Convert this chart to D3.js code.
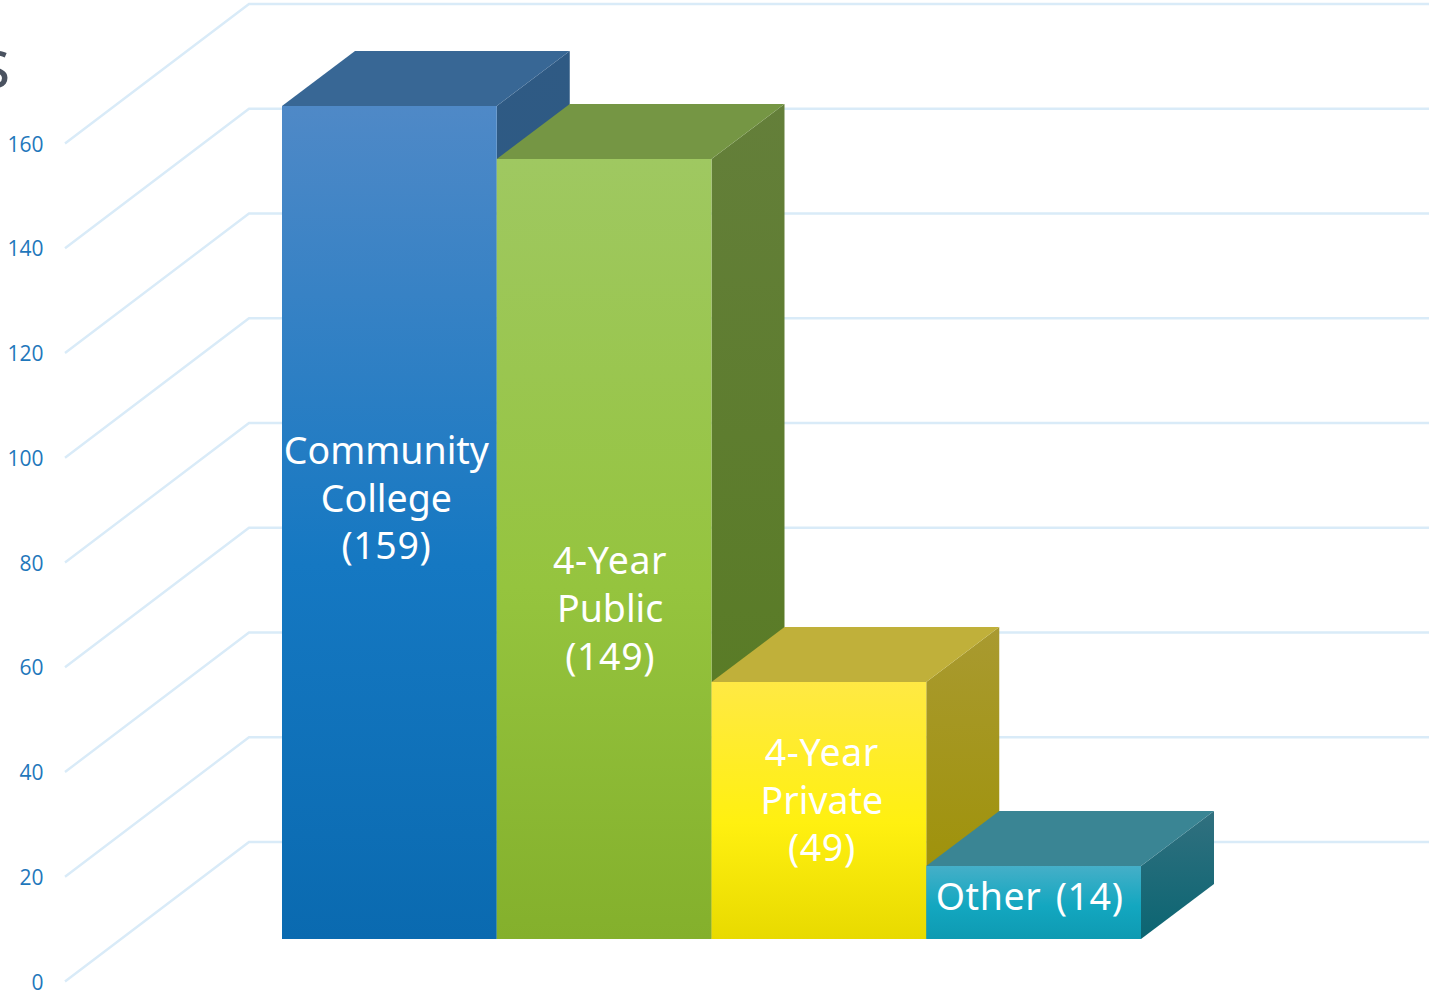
<!DOCTYPE html>
<html><head><meta charset="utf-8">
<script src="https://cdn.jsdelivr.net/npm/d3@7"></script>
<style>html,body{margin:0;padding:0;background:#fff;overflow:hidden}svg{display:block}</style>
</head><body><svg id="c" width="1429" height="995"></svg>
<script>
const categories = ["Community College", "4-Year Public", "4-Year Private", "Other"];
const values = [159, 149, 49, 14];
const labelLines = [["Community","College","(159)"],["4-Year","Public","(149)"],["4-Year","Private","(49)"],["Other (14)"]];
const tickValues = [0,20,40,60,80,100,120,140,160];
const W=1429,H=995;
const svg=d3.select("#c");
const defs=svg.append("defs");
const palette=[
 {front:["#4f89c7","#1578c2","#0a6ab0"],top:"#386795",side:["#2f5a84","#285a82"]},
 {front:["#9fc861","#95c43e","#84b02c"],top:"#759644",side:["#647f3a","#557a1e"]},
 {front:["#ffe944","#fff010","#e8da00"],top:"#c0b03a",side:["#a99a30","#9c9000"]},
 {front:["#45afc8","#13a7c0","#0e9ab2"],top:"#3a8594",side:["#31707f","#0b6572"]}
];
palette.forEach((p,i)=>{
  const g=defs.append("linearGradient").attr("id","f"+i).attr("x1",0).attr("y1",0).attr("x2",0).attr("y2",1);
  p.front.forEach((c,k)=>g.append("stop").attr("offset",[0,.55,1][k]).attr("stop-color",c));
  const s=defs.append("linearGradient").attr("id","s"+i).attr("x1",0).attr("y1",0).attr("x2",0).attr("y2",1);
  p.side.forEach((c,k)=>s.append("stop").attr("offset",k).attr("stop-color",c));
});
// scales
const y=d3.scaleLinear().domain([0,160]).range([981.5,143.5]);
const x=d3.scaleBand().domain(categories).range([282,1141]).padding(0);
const wall={dx:184,dy:-139.5}, bar={dx:73,dy:-55}, floorDrop=42.5;
// title fragment clipped at the left edge
svg.append("text").attr("x",10.5).attr("y",87.5).attr("text-anchor","end")
  .attr("font-family","'Open Sans',sans-serif").attr("font-size",70).attr("fill","#4a5260").text("s");
// gridlines
const gl=svg.append("g").attr("fill","none").attr("stroke","#d9ebf8").attr("stroke-width",2.4);
gl.selectAll("polyline").data(tickValues).join("polyline")
  .attr("points",d=>`${65},${y(d)} ${65+wall.dx},${y(d)+wall.dy} ${W},${y(d)+wall.dy}`);
// axis labels
const ax=svg.append("g").attr("transform","translate(43.5,0)")
  .call(d3.axisLeft(y).tickValues(tickValues).tickSize(0).tickPadding(0));
ax.select(".domain").remove();
ax.selectAll("text").attr("font-family","'Open Sans',sans-serif").attr("font-size",21).attr("fill","#1f77bb").attr("dy","0.36em");
// bars
const base=Math.round(y(0)-floorDrop);
const by=v=>Math.round(y(v)-floorDrop);
const bars=svg.append("g").selectAll("g").data(categories).join("g");
bars.each(function(c,i){
  const g=d3.select(this),x0=x(c),x1=x0+x.bandwidth(),t=by(values[i]),{dx,dy}=bar;
  g.append("polygon").attr("fill",`url(#s${i})`).attr("points",`${x1},${t} ${x1+dx},${t+dy} ${x1+dx},${base+dy} ${x1},${base}`);
  g.append("polygon").attr("fill",palette[i].top).attr("points",`${x0},${t} ${x1},${t} ${x1+dx},${t+dy} ${x0+dx},${t+dy}`);
  g.append("rect").attr("x",x0).attr("y",t).attr("width",x.bandwidth()).attr("height",base-t).attr("fill",`url(#f${i})`);
});
// labels
const labelShift=[[-3,-24],[6,60],[3,-10],[-4,-6]];
const lh=47.7;
bars.each(function(c,i){
  const lines=labelLines[i];
  const cx=x(c)+x.bandwidth()/2+labelShift[i][0];
  const cy=(by(values[i])+base)/2+labelShift[i][1];
  d3.select(this).append("text").attr("text-anchor","middle")
   .attr("font-family","'Noto Sans',sans-serif").attr("font-size",37.5).attr("fill","#fff")
   .selectAll("tspan").data(lines).join("tspan").attr("x",cx)
   .attr("y",(d,k)=>cy+(k-(lines.length-1)/2)*lh+13)
   .attr("letter-spacing",d=>/\d/.test(d)?0.6:0)
   .attr("word-spacing",d=>d.includes(" ")?4:0)
   .text(d=>d);
});
</script></body></html>
